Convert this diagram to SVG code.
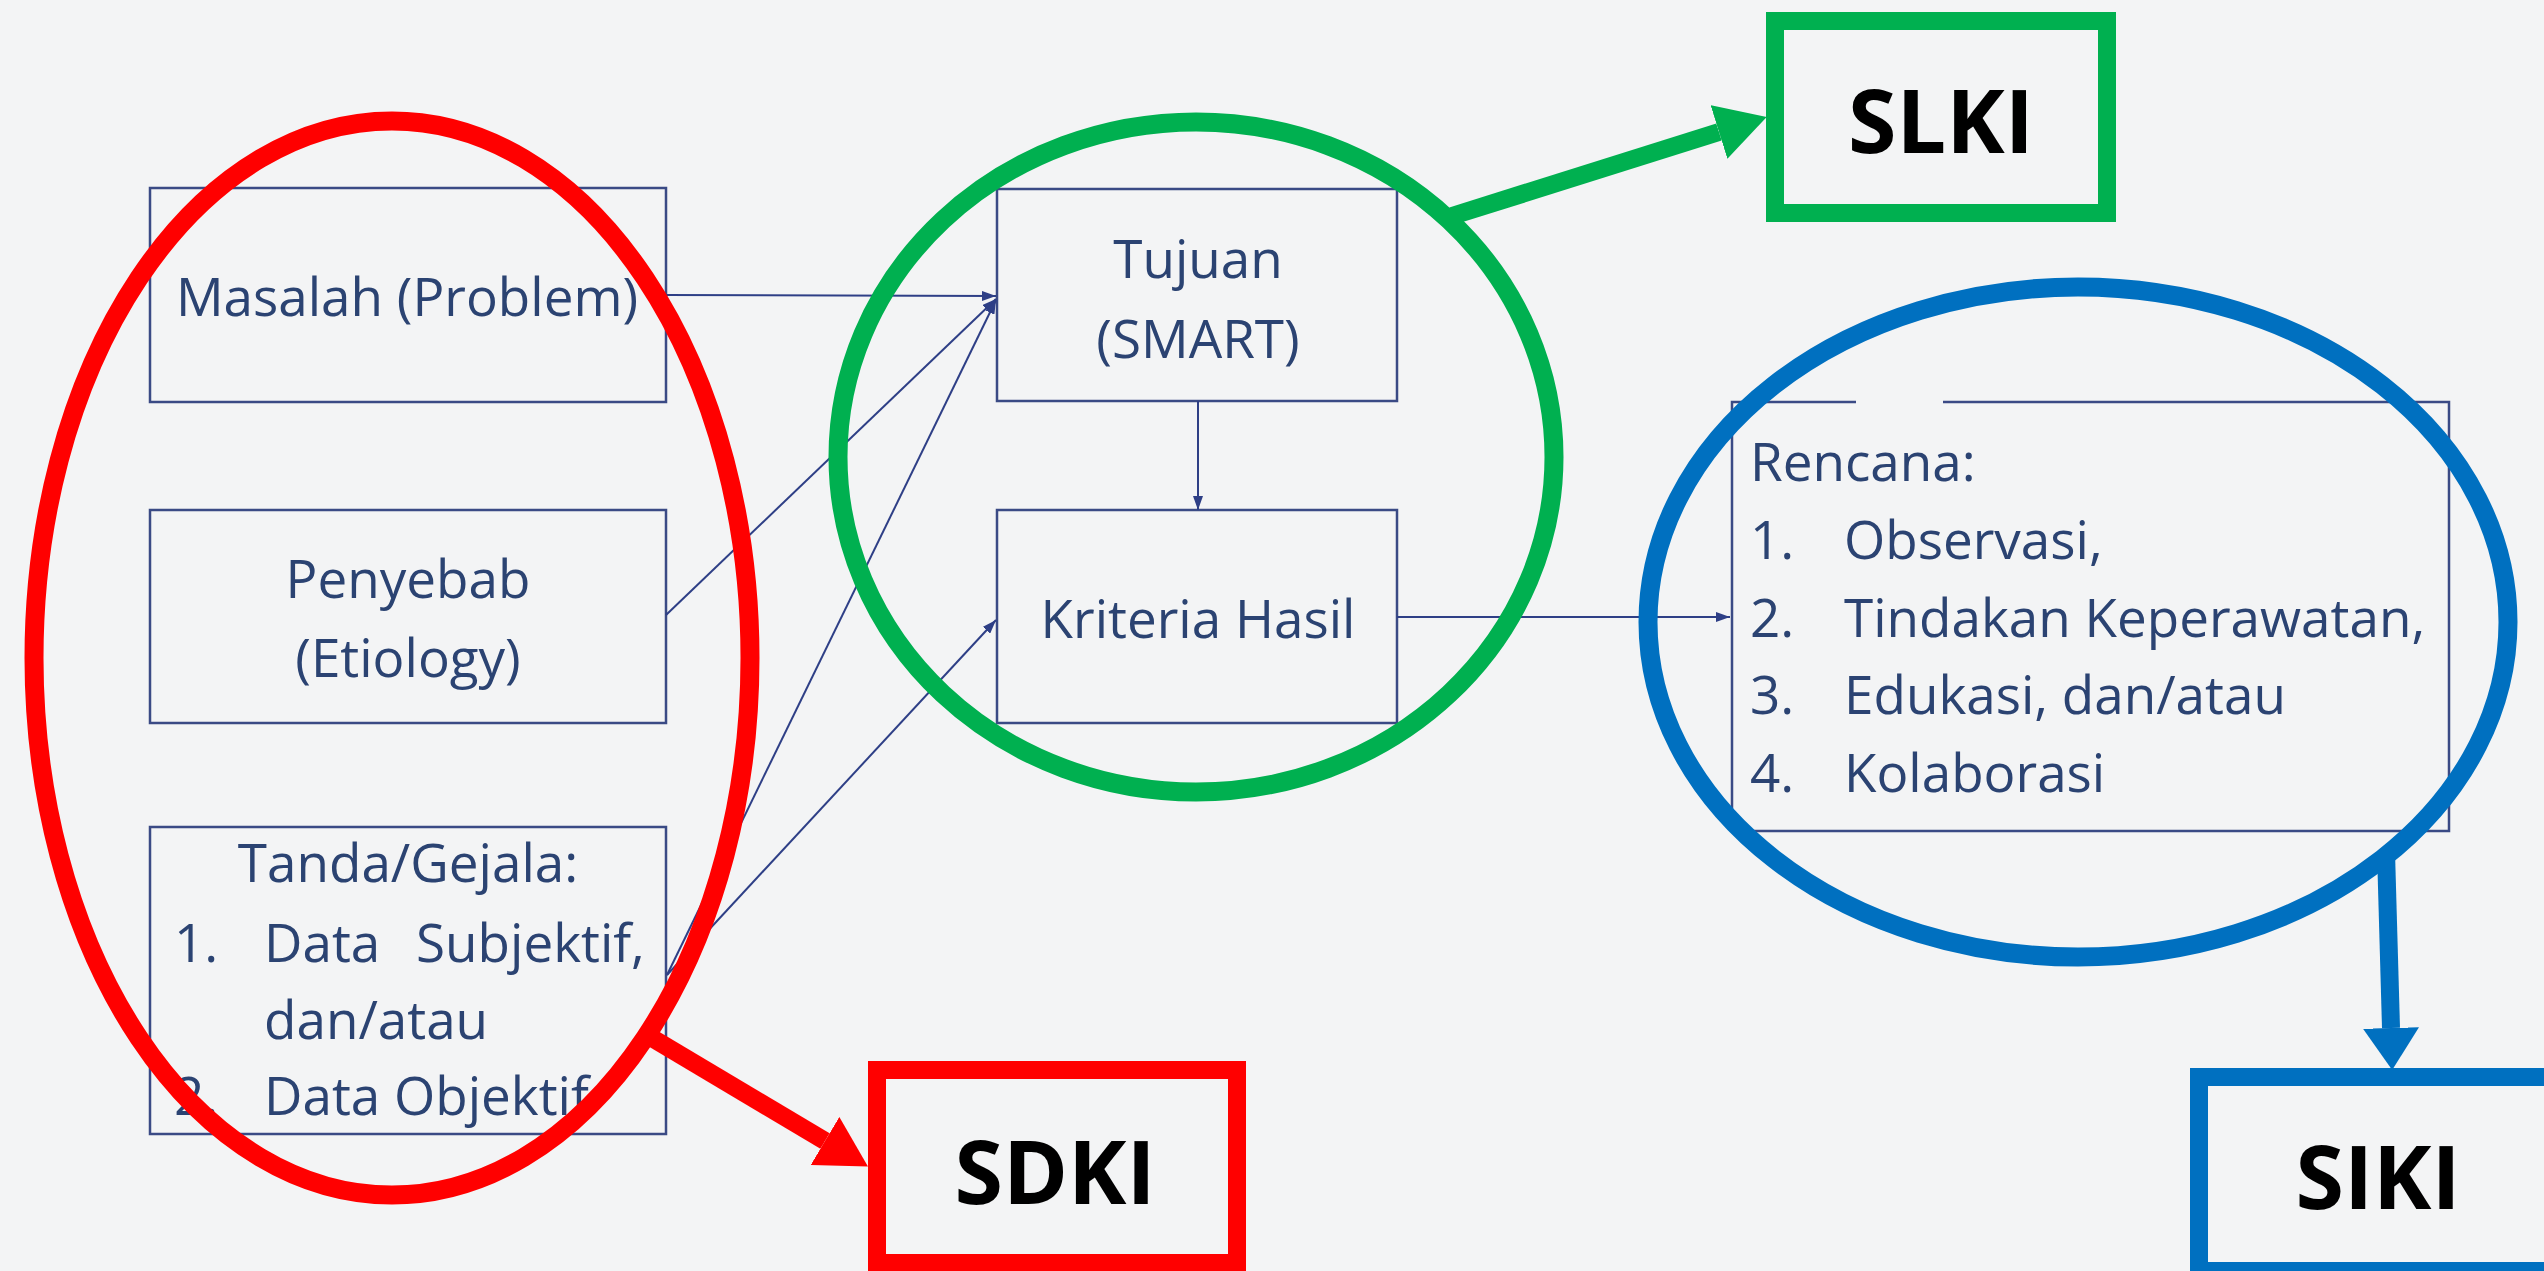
<svg xmlns="http://www.w3.org/2000/svg" width="2544" height="1271" viewBox="0 0 2544 1271">
<defs>
<style>
.box{fill:none;stroke:#3a4a85;stroke-width:2.5}
.t{font-family:"Open Sans","Noto Sans","Liberation Sans",sans-serif;font-size:53px;fill:#2b4372}
.c{text-anchor:middle}
.lbl{font-family:"Open Sans","Noto Sans","Liberation Sans",sans-serif;font-size:88px;font-weight:bold;fill:#000;text-anchor:middle}
.thin{fill:none;stroke:#2e3f86;stroke-width:2;marker-end:url(#ah)}
.ring{fill:none;stroke-width:19}
.big{fill:none;stroke-width:18}
.thick{fill:none;stroke-width:18}
</style>
<marker id="ah" markerUnits="userSpaceOnUse" markerWidth="14" markerHeight="10" refX="14" refY="5" orient="auto"><path d="M0,0 L14,5 L0,10 z" fill="#2e3f86"/></marker>
<marker id="ahRed" markerUnits="userSpaceOnUse" markerWidth="50" markerHeight="56" refX="0" refY="28" orient="auto"><path d="M0,0 L50,28 L0,56 z" fill="#ff0000"/></marker>
<marker id="ahGreen" markerUnits="userSpaceOnUse" markerWidth="50" markerHeight="56" refX="0" refY="28" orient="auto"><path d="M0,0 L50,28 L0,56 z" fill="#00b050"/></marker>
<marker id="ahBlue" markerUnits="userSpaceOnUse" markerWidth="42" markerHeight="56" refX="0" refY="28" orient="auto"><path d="M0,0 L42,28 L0,56 z" fill="#0070c0"/></marker>
</defs>
<rect x="0" y="0" width="2544" height="1271" fill="#f3f4f5"/>

<g id="masalah">
<rect class="box" x="150" y="188" width="516" height="214"/>
<text class="t c" x="407" y="316">Masalah (Problem)</text>
</g>
<g id="penyebab">
<rect class="box" x="150" y="510" width="516" height="213"/>
<text class="t c" x="408" y="598">Penyebab</text>
<text class="t c" x="408" y="677">(Etiology)</text>
</g>
<g id="tanda">
<rect class="box" x="150" y="827" width="516" height="307"/>
<text class="t c" x="408" y="882">Tanda/Gejala:</text>
<text class="t" x="174" y="962">1.</text>
<text class="t" x="264" y="962" word-spacing="22">Data Subjektif,</text>
<text class="t" x="264" y="1039">dan/atau</text>
<text class="t" x="174" y="1115">2.</text>
<text class="t" x="264" y="1115">Data Objektif</text>
</g>
<g id="tujuan">
<rect class="box" x="997" y="189" width="400" height="212"/>
<text class="t c" x="1198" y="278">Tujuan</text>
<text class="t c" x="1198" y="358">(SMART)</text>
</g>
<g id="kriteria">
<rect class="box" x="997" y="510" width="400" height="213"/>
<text class="t c" x="1198" y="638">Kriteria Hasil</text>
</g>
<g id="rencana">
<path class="box" d="M1856,402 L1732,402 L1732,831 L2449,831 L2449,402 L1943,402"/>
<text class="t" x="1750" y="481">Rencana:</text>
<text class="t" x="1750" y="559">1.</text>
<text class="t" x="1844" y="559">Observasi,</text>
<text class="t" x="1750" y="637">2.</text>
<text class="t" x="1844" y="637">Tindakan Keperawatan,</text>
<text class="t" x="1750" y="714">3.</text>
<text class="t" x="1844" y="714">Edukasi, dan/atau</text>
<text class="t" x="1750" y="792">4.</text>
<text class="t" x="1844" y="792">Kolaborasi</text>
</g>

<g id="connectors">
<line class="thin" x1="666" y1="295" x2="996" y2="296"/>
<line class="thin" x1="666" y1="615" x2="996" y2="299"/>
<line class="thin" x1="667" y1="975" x2="996" y2="300"/>
<line class="thin" x1="667" y1="975" x2="996" y2="620"/>
<line class="thin" x1="1198" y1="401" x2="1198" y2="510"/>
<line class="thin" x1="1397" y1="617" x2="1730" y2="617"/>
<line class="thick" stroke="#ff0000" x1="652" y1="1038" x2="825" y2="1141" marker-end="url(#ahRed)"/>
<line class="thick" stroke="#00b050" x1="1452" y1="216" x2="1719" y2="132" marker-end="url(#ahGreen)"/>
<line class="thick" stroke="#0070c0" x1="2386" y1="852" x2="2391" y2="1028" marker-end="url(#ahBlue)"/>
</g>

<g id="ring-sdki">
<ellipse class="ring" stroke="#ff0000" cx="392" cy="658" rx="358" ry="537"/>
</g>
<g id="ring-slki">
<ellipse class="ring" stroke="#00b050" cx="1196" cy="457" rx="358" ry="335"/>
</g>
<g id="ring-siki">
<ellipse class="ring" stroke="#0070c0" cx="2078" cy="622" rx="430" ry="335"/>
</g>

<g id="sdki">
<rect class="big" stroke="#ff0000" x="877" y="1070" width="360" height="193"/>
<text class="lbl" x="1055" y="1204">SDKI</text>
</g>
<g id="slki">
<rect class="big" stroke="#00b050" x="1775" y="21" width="332" height="192"/>
<text class="lbl" x="1941" y="153">SLKI</text>
</g>
<g id="siki">
<rect class="big" stroke="#0070c0" x="2199" y="1077" width="420" height="194"/>
<text class="lbl" x="2378" y="1209">SIKI</text>
</g>
</svg>
